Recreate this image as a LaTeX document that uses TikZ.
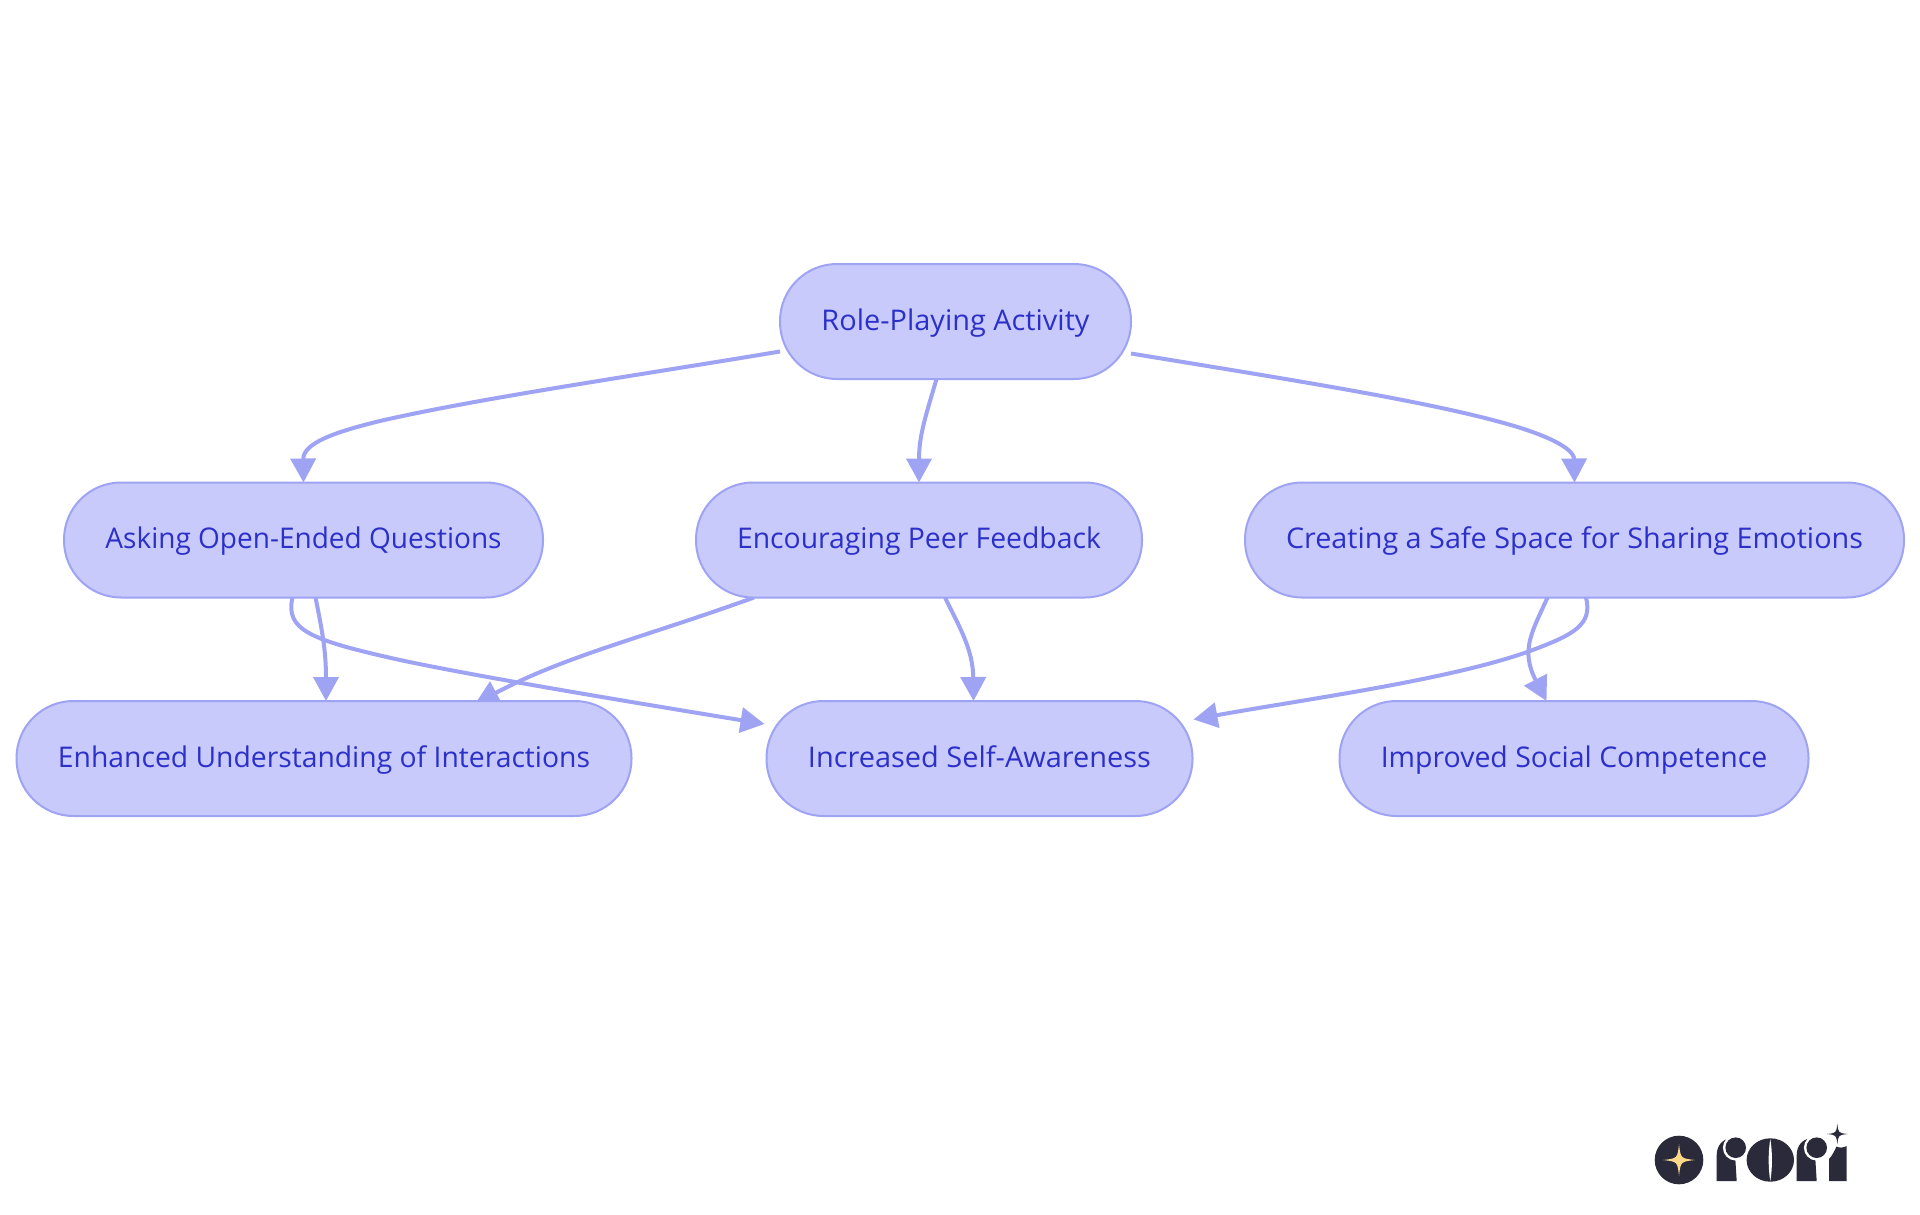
\documentclass[tikz,border=0pt]{standalone}
\usepackage{fontspec}
\setmainfont{Open Sans}
\usetikzlibrary{arrows.meta,backgrounds}
\definecolor{edgec}{HTML}{9FA3F4}
\definecolor{fillc}{HTML}{C8CAFC}
\definecolor{textc}{HTML}{2C30C8}
\definecolor{logod}{HTML}{2A2A3A}
\definecolor{logog}{HTML}{FBD88A}
\newcommand\lab[2]{\resizebox{#1pt}{\height}{#2}}
\newcommand\fstar[4]{\fill[#4] (#1,#2-#3) .. controls ({#1+.1*#3},{#2-.1*#3}) .. (#1+#3,#2) .. controls ({#1+.1*#3},{#2+.1*#3}) .. (#1,#2+#3) .. controls ({#1-.1*#3},{#2+.1*#3}) .. (#1-#3,#2) .. controls ({#1-.1*#3},{#2-.1*#3}) .. cycle;}
\tikzset{
  box/.style={draw=edgec,fill=fillc,line width=2pt,rectangle,rounded corners=57pt,minimum height=115pt,inner sep=0pt,outer sep=0pt,text=textc,font=\fontsize{28.5pt}{34pt}\selectfont,text height=17pt,text depth=0pt},
  link/.style={draw=edgec,line width=4pt,-{Triangle[length=24pt,width=25pt]}}
}
\begin{document}
\begin{tikzpicture}[x=1pt,y=-1pt]
\useasboundingbox (0,0) rectangle (1920,1215);
\node[box,minimum width=351pt] (root) at (955.5,321.5) {\lab{268}{Role-Playing Activity}};
\node[box,minimum width=479pt] (ask) at (303.5,540) {\lab{396}{Asking Open-Ended Questions}};
\node[box,minimum width=446pt] (peer) at (919,540) {\lab{364}{Encouraging Peer Feedback}};
\node[box,minimum width=659pt] (safe) at (1574.5,540) {\lab{577}{Creating a Safe Space for Sharing Emotions}};
\node[box,minimum width=615pt] (enh) at (324,758.5) {\lab{532}{Enhanced Understanding of Interactions}};
\node[box,minimum width=426pt] (self) at (979.5,758.5) {\lab{343}{Increased Self-Awareness}};
\node[box,minimum width=469pt] (soc) at (1574,758.5) {\lab{386.5}{Improved Social Competence}};
\begin{scope}[on background layer]
\fill[white] (0,0) rectangle (1920,1215);
\draw[link] ([yshift=-30pt]root.west) .. controls (640,375) and (480,398) .. (380,421) .. controls (335,432) and (303,443) .. (ask.north);
\draw[link] ([xshift=-19pt]root.south) .. controls (926,415) and (919,435) .. (peer.north);
\draw[link] ([yshift=-32pt]root.east) .. controls (1280,378) and (1420,400) .. (1500,422) .. controls (1545,434) and (1574,448) .. (safe.north);
\draw[link] ([xshift=12pt]ask.south) .. controls (322,630) and (326,650) .. ([xshift=2pt]enh.north);
\draw[link] ([xshift=-11pt]ask.south) .. controls (285,630) and (310,640) .. (400,660) .. controls (470,675) and (600,697) .. ([yshift=34.5pt,xshift=-2pt]self.west);
\draw[link] ([xshift=-165pt]peer.south) .. controls (645,637) and (565,656) .. ([xshift=151pt,yshift=-3pt]enh.north);
\draw[link] ([xshift=26pt]peer.south) .. controls (960,628) and (973,650) .. ([xshift=-6pt]self.north);
\draw[link] ([xshift=-27pt]safe.south) .. controls (1532,632) and (1520,650) .. ([xshift=-27.5pt]soc.north);
\draw[link] ([xshift=11.5pt]safe.south) .. controls (1593,625) and (1573,635) .. (1530,651) .. controls (1450,680) and (1300,700) .. ([yshift=39pt,xshift=1pt]self.east);
\end{scope}
% logo
\fill[logod] (1679,1160) circle (24.3);
\fstar{1679}{1160}{16}{logog}
% first r
\fill[logod] (1716.7,1181) -- (1716.7,1155) .. controls (1716.7,1146) and (1722,1138) .. (1734,1138) -- (1736.7,1181) -- cycle;
\fill[white] (1735.7,1147.7) circle (12.8);
\fill[logod] (1735.7,1147.7) circle (10.3);
% o
\fill[logod] (1770.3,1160) ellipse (23.7 and 21.7);
\fill[white] (1770.3,1139) .. controls (1772.5,1152) and (1772.5,1168) .. (1770.3,1181) .. controls (1768.1,1168) and (1768.1,1152) .. cycle;
% second r
\fill[logod] (1796.7,1181) -- (1796.7,1155) .. controls (1796.7,1146) and (1802,1138) .. (1814,1138) -- (1816.7,1181) -- cycle;
\fill[logod] (1829,1181) -- (1829,1159) .. controls (1832,1156) and (1835,1150) .. (1836.5,1146.5) .. controls (1839,1148) and (1843,1148) .. (1846.7,1146) -- (1846.7,1181) -- cycle;
\fill[white] (1816.7,1147.7) circle (12.8);
\fill[logod] (1816.7,1147.7) circle (10.3);
\fstar{1837.3}{1134}{10.3}{logod}
\end{tikzpicture}
\end{document}
